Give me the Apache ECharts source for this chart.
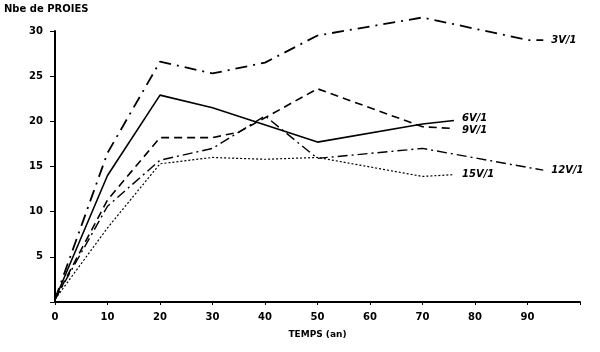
<!DOCTYPE html>
<html>
<head>
    <meta charset="UTF-8">
    <title>Nbe de proies</title>
    <script type="text/javascript" src="https://cdn.jsdelivr.net/npm/echarts@6/dist/echarts.min.js"></script>
    <style>
        body { margin: 0; padding: 0; background: #fff; }
        #chart { width: 600px; height: 352px; }
    </style>
</head>
<body>
<div id="chart"></div>
<script>
    // temps (an) / nombre de proies
    var t3 = [0, 10, 20, 30, 40, 50, 70, 90, 93];
    var v3 = [0.3, 16.5, 26.6, 25.3, 26.5, 29.5, 31.5, 29.0, 29.0];
    var t6 = [0, 10, 20, 30, 50, 70, 76];
    var v6 = [0.3, 14.0, 22.9, 21.5, 17.7, 19.7, 20.1];
    var t9 = [0, 10, 20, 30, 35, 50, 70, 76];
    var v9 = [0.3, 11.3, 18.2, 18.2, 18.8, 23.6, 19.4, 19.2];
    var t12 = [0, 10, 20, 30, 40, 50, 70, 90, 93];
    var v12 = [0.3, 10.6, 15.7, 17.0, 20.6, 15.9, 17.0, 14.9, 14.6];
    var t15 = [0, 10, 20, 30, 40, 50, 70, 76];
    var v15 = [0.3, 8.2, 15.3, 16.0, 15.8, 16.0, 13.9, 14.1];
    var names = ['3V/1', '6V/1', '9V/1', '12V/1', '15V/1'];

    function pairs(xs, ys) {
        return xs.map(function (x, i) { return [x, ys[i]]; });
    }

    var font = 'DejaVu Sans';
    function serie(name, xs, ys, dash, width, lblOff) {
        return {
            name: name,
            type: 'line',
            data: pairs(xs, ys),
            symbol: 'none',
            silent: true,
            clip: false,
            lineStyle: {color: '#000', width: width, type: dash},
            endLabel: {
                show: true,
                formatter: name,
                color: '#000',
                fontFamily: font,
                fontStyle: 'italic',
                fontWeight: 'bold',
                fontSize: 10,
                offset: lblOff
            }
        };
    }

    var chart = echarts.init(document.getElementById('chart'), null, {renderer: 'canvas'});
    chart.setOption({
        animation: false,
        backgroundColor: '#fff',
        grid: {left: 55, right: 20, top: 31, bottom: 50},
        graphic: [{
            type: 'text', left: 4, top: 4,
            style: {text: 'Nbe de PROIES', font: 'bold 10px "DejaVu Sans"', fill: '#000'}
        }],
        xAxis: {
            type: 'value', min: 0, max: 100, interval: 10,
            name: 'TEMPS (an)', nameLocation: 'middle', nameGap: 28,
            nameTextStyle: {color: '#000', fontFamily: font, fontWeight: 'bold', fontSize: 9},
            axisLine: {lineStyle: {color: '#000', width: 2}},
            axisTick: {length: 3, lineStyle: {color: '#000'}},
            axisLabel: {
                color: '#000', fontFamily: font, fontWeight: 'bold', fontSize: 10, margin: 10,
                formatter: function (v) { return v >= 100 ? '' : v; }
            },
            splitLine: {show: false}
        },
        yAxis: {
            type: 'value', min: 0, max: 30, interval: 5,
            axisLine: {show: true, lineStyle: {color: '#000', width: 2}},
            axisTick: {show: true, length: 5, lineStyle: {color: '#000'}},
            axisLabel: {
                color: '#000', fontFamily: font, fontWeight: 'bold', fontSize: 10, margin: 12,
                formatter: function (v) { return v === 0 ? '' : v; }
            },
            splitLine: {show: false}
        },
        series: [
            serie(names[0], t3, v3, [12, 6, 2, 6], 1.8, [0, 0]),
            serie(names[1], t6, v6, 'solid', 1.6, [0, -2]),
            serie(names[2], t9, v9, [8, 5], 1.6, [0, 2]),
            serie(names[3], t12, v12, [10, 4, 2, 4], 1.4, [0, 0]),
            serie(names[4], t15, v15, [2, 2], 1.2, [0, 0])
        ]
    });
</script>
</body>
</html>
